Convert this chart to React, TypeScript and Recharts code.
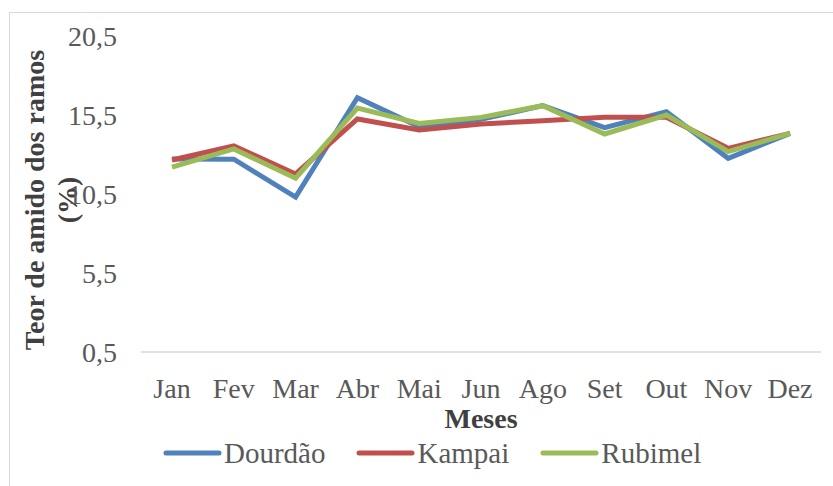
import React from 'react';
import { LineChart, Line, XAxis, YAxis, Legend } from 'recharts';

const months = ['Jan', 'Fev', 'Mar', 'Abr', 'Mai', 'Jun', 'Ago', 'Set', 'Out', 'Nov', 'Dez'];
const dourdao = [12.72, 12.7, 10.3, 16.6, 14.76, 15.23, 16.09, 14.7, 15.71, 12.76, 14.34];
const kampai = [12.65, 13.54, 11.77, 15.25, 14.55, 14.93, 15.14, 15.35, 15.35, 13.39, 14.34];
const rubimel = [12.2, 13.35, 11.5, 15.94, 14.97, 15.35, 16.09, 14.3, 15.5, 13.18, 14.34];
const yTicks = [0.5, 5.5, 10.5, 15.5, 20.5];

const series = [
  { key: 'Dourdão', values: dourdao, color: '#4F81BD' },
  { key: 'Kampai', values: kampai, color: '#C0504D' },
  { key: 'Rubimel', values: rubimel, color: '#9BBB59' },
];

const data = months.map((m, i) => {
  const row: Record<string, string | number> = { month: m };
  series.forEach((s) => {
    row[s.key] = s.values[i];
  });
  return row;
});

const serif = "'Liberation Serif', 'Times New Roman', serif";

const YTitle = () => {
  const cy = 200;
  return (
    <g>
      <text
        x={34}
        y={cy}
        transform={`rotate(-90, 34, ${cy})`}
        textAnchor="middle"
        dominantBaseline="central"
        fontFamily={serif}
        fontWeight="bold"
        fontSize={28}
        fill="#404040"
      >
        Teor de amido dos ramos
      </text>
      <text
        x={67}
        y={cy}
        transform={`rotate(-90, 67, ${cy})`}
        textAnchor="middle"
        dominantBaseline="central"
        fontFamily={serif}
        fontWeight="bold"
        fontSize={28}
        fill="#404040"
      >
        (%)
      </text>
    </g>
  );
};

const XTitle = (props: any) => {
  const vb = props.viewBox || {};
  return (
    <text
      x={vb.x + vb.width / 2}
      y={418}
      textAnchor="middle"
      dominantBaseline="central"
      fontFamily={serif}
      fontWeight="bold"
      fontSize={28}
      fill="#404040"
    >
      Meses
    </text>
  );
};

const LegendContent = (props: any) => {
  const payload = props.payload || [];
  return (
    <div style={{ display: 'flex', alignItems: 'center', paddingLeft: 163, height: 30 }}>
      {payload.map((p: any) => (
        <div key={p.value} style={{ display: 'flex', alignItems: 'center', marginRight: 31 }}>
          <svg width={59} height={10} style={{ display: 'block' }}>
            <line x1={3} y1={5} x2={56} y2={5} stroke={p.color} strokeWidth={5} strokeLinecap="round" />
          </svg>
          <span style={{ fontFamily: serif, fontSize: 29, color: '#595959', marginLeft: 2, lineHeight: '30px' }}>
            {p.value}
          </span>
        </div>
      ))}
    </div>
  );
};

export default function App() {
  return (
    <div style={{ position: 'fixed', left: 0, top: 0, width: 833, height: 486, overflow: 'hidden', background: '#fff' }}>
      <div
        style={{
          position: 'absolute',
          left: 9,
          top: 12,
          width: 900,
          height: 600,
          border: '1px solid #d9d9d9',
        }}
      />
      <div style={{ position: 'absolute', left: 0, top: 0 }}>
        <LineChart width={833} height={486} data={data} margin={{ top: 36, right: 12, bottom: 18, left: 0 }}>
          <XAxis
            dataKey="month"
            tickLine={false}
            axisLine={{ stroke: '#d9d9d9', strokeWidth: 1.5 }}
            tick={{ fontFamily: serif, fontSize: 28, fill: '#595959' }}
            tickMargin={20}
            height={86}
            padding={{ left: 31, right: 31 }}
            interval={0}
            label={<XTitle />}
          />
          <YAxis
            type="number"
            domain={[0.5, 20.5]}
            ticks={yTicks}
            width={141}
            axisLine={false}
            tickLine={false}
            tickMargin={18}
            tick={{ fontFamily: serif, fontSize: 28, fill: '#595959' }}
            tickFormatter={(v: number) => v.toFixed(1).replace('.', ',')}
            label={<YTitle />}
          />
          <Legend verticalAlign="bottom" align="left" height={30} content={<LegendContent />} />
          {series.map((s) => (
            <Line
              key={s.key}
              type="linear"
              dataKey={s.key}
              stroke={s.color}
              strokeWidth={5}
              dot={false}
              activeDot={false}
              isAnimationActive={false}
              strokeLinejoin="miter"
            />
          ))}
        </LineChart>
      </div>
    </div>
  );
}
